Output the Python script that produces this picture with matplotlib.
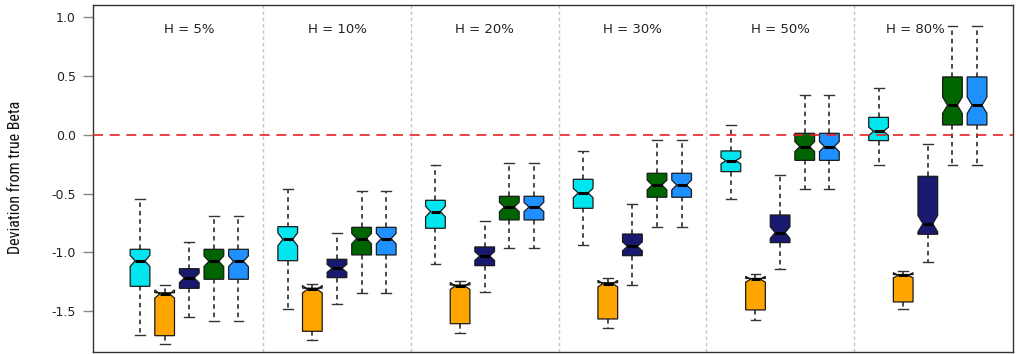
import matplotlib
matplotlib.use("Agg")
import matplotlib.pyplot as plt

# Panel labels and where they sit on the x axis
groups = ["H = 5%", "H = 10%", "H = 20%", "H = 30%", "H = 50%", "H = 80%"]
label_x = [3, 9, 15, 21, 27, 32.5]

# Five-number summaries per panel: [lower whisker, Q1, median, Q3, upper whisker]
est_cyan = [
    [-1.700, -1.288, -1.072, -0.973, -0.545],
    [-1.478, -1.070, -0.888, -0.780, -0.462],
    [-1.098, -0.794, -0.652, -0.556, -0.255],
    [-0.936, -0.624, -0.494, -0.377, -0.139],
    [-0.542, -0.312, -0.219, -0.136, 0.085],
    [-0.255, -0.048, 0.031, 0.150, 0.403],
]
est_orange = [
    [-1.781, -1.708, -1.353, -1.343, -1.274],
    [-1.745, -1.671, -1.313, -1.304, -1.271],
    [-1.685, -1.606, -1.285, -1.277, -1.243],
    [-1.645, -1.566, -1.265, -1.257, -1.220],
    [-1.574, -1.489, -1.228, -1.221, -1.186],
    [-1.484, -1.421, -1.194, -1.188, -1.155],
]
est_navy = [
    [-1.549, -1.305, -1.217, -1.138, -0.908],
    [-1.436, -1.214, -1.135, -1.058, -0.837],
    [-1.339, -1.112, -1.030, -0.953, -0.729],
    [-1.277, -1.027, -0.948, -0.843, -0.587],
    [-1.138, -0.916, -0.831, -0.681, -0.338],
    [-1.078, -0.845, -0.755, -0.352, -0.079],
]
est_green = [
    [-1.586, -1.228, -1.075, -0.973, -0.689],
    [-1.342, -1.021, -0.882, -0.786, -0.474],
    [-0.962, -0.723, -0.613, -0.522, -0.241],
    [-0.786, -0.530, -0.426, -0.326, -0.043],
    [-0.460, -0.216, -0.099, 0.014, 0.340],
    [-0.253, 0.085, 0.253, 0.494, 0.930],
]
est_blue = [
    [-1.586, -1.228, -1.075, -0.973, -0.689],
    [-1.342, -1.021, -0.882, -0.786, -0.474],
    [-0.962, -0.723, -0.613, -0.522, -0.241],
    [-0.786, -0.530, -0.426, -0.326, -0.043],
    [-0.460, -0.216, -0.099, 0.014, 0.340],
    [-0.253, 0.085, 0.253, 0.494, 0.930],
]

# Half-width of the median confidence notch for each box
notch_cyan = [0.047, 0.055, 0.045, 0.040, 0.027, 0.035]
notch_orange = [0.035, 0.032, 0.030, 0.028, 0.025, 0.022]
notch_navy = [0.040, 0.034, 0.038, 0.038, 0.050, 0.070]
notch_green = [0.045, 0.045, 0.040, 0.042, 0.042, 0.070]
notch_blue = [0.045, 0.045, 0.040, 0.042, 0.042, 0.070]

series = [
    (est_cyan, notch_cyan, "#00E5EE"),
    (est_orange, notch_orange, "#FFA500"),
    (est_navy, notch_navy, "#191970"),
    (est_green, notch_green, "#006400"),
    (est_blue, notch_blue, "#1E90FF"),
]

W, H = 1016, 354
fig = plt.figure(figsize=(W / 100, H / 100), dpi=100)
ax = fig.add_axes([93 / W, 2 / H, (1013 - 93) / W, (352 - 5) / H])

n_series = len(series)
slot = n_series + 1

for k in range(len(groups)):
    stats, pos, cols = [], [], []
    for j, (vals, notch, col) in enumerate(series):
        lo, q1, med, q3, hi = vals[k]
        stats.append(dict(whislo=lo, q1=q1, med=med, q3=q3, whishi=hi,
                          cilo=med - notch[k], cihi=med + notch[k],
                          fliers=[]))
        pos.append(k * slot + j + 1)
        cols.append(col)
    art = ax.bxp(stats, positions=pos, widths=0.8, capwidths=0.4,
                 shownotches=True, patch_artist=True, showfliers=False,
                 boxprops=dict(edgecolor="#1a1a1a", linewidth=0.9),
                 whiskerprops=dict(color="#1a1a1a", linewidth=1.1,
                                   linestyle=(0, (3, 2.5))),
                 capprops=dict(color="#333333", linewidth=1.0),
                 medianprops=dict(color="black", linewidth=2.2,
                                  solid_capstyle="butt"))
    for patch, col in zip(art["boxes"], cols):
        patch.set_facecolor(col)

# Panel separators
for k in range(1, len(groups)):
    ax.axvline(k * slot, color="#c4c4c4", linewidth=1.0,
               linestyle=(0, (2.5, 2)), zorder=0)

# Zero-deviation reference
ax.axhline(0, color="#e8202a", linewidth=1.2, linestyle=(0, (6, 4)), zorder=3)

for x, g in zip(label_x, groups):
    ax.text(x, 0.894, g, ha="center", va="center", fontsize=9.5,
            color="#222222", family="DejaVu Sans")

ax.set_xlim(-0.91, 36.46)
ax.set_ylim(-1.847, 1.106)
ax.set_xticks([])
ax.set_yticks([-1.5, -1.0, -0.5, 0.0, 0.5, 1.0])
ax.set_yticklabels(["-1.5", "-1.0", "-0.5", "0.0", "0.5", "1.0"])
ax.tick_params(axis="y", length=7.5, width=1, color="#888888",
               labelsize=9, labelcolor="#222222", pad=5)
for s in ax.spines.values():
    s.set_color("#333333")
    s.set_linewidth(1.0)

fig.text(16 / W, 0.5, "Deviation from true Beta", rotation=90,
         ha="center", va="center", fontsize=11.5, color="#111111",
         family=["Roboto Condensed", "Liberation Sans Narrow",
                 "Open Sans Condensed", "Roboto"])

fig.savefig("out.png", dpi=100)
